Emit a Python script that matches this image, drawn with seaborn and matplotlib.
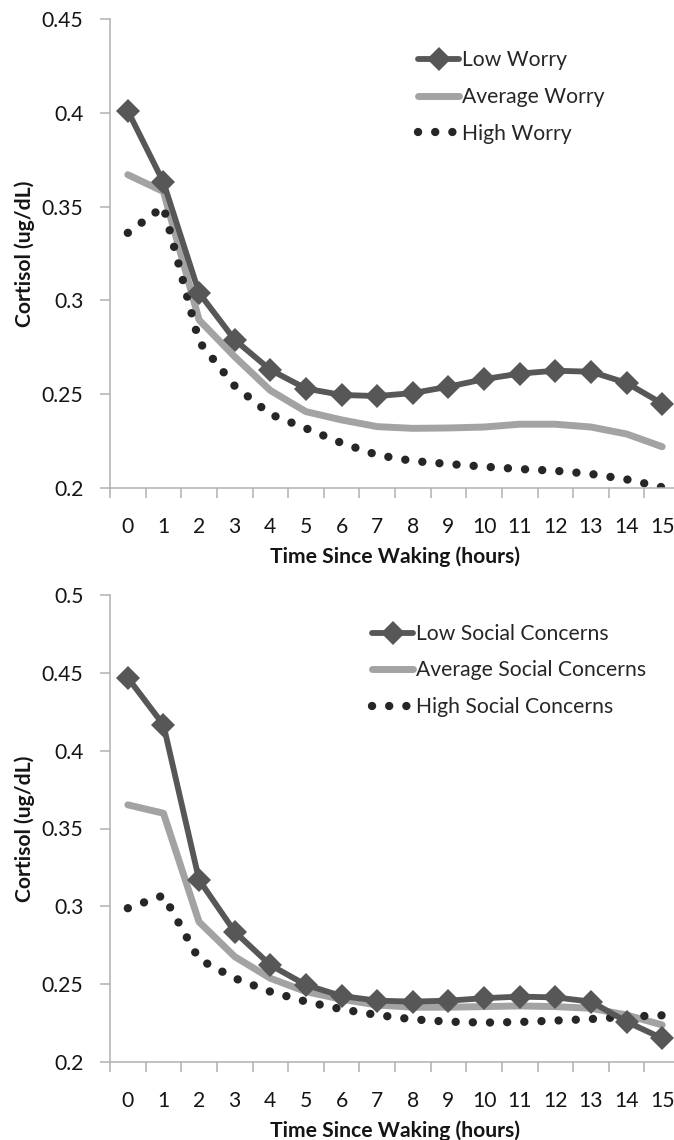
import numpy as np
import matplotlib
matplotlib.use("Agg")
import matplotlib.pyplot as plt
import seaborn as sns
import pandas as pd

# ---- data ----
hours = list(range(16))
hour_labels = [str(h) for h in hours]

low_worry = [0.401, 0.363, 0.304, 0.279, 0.263, 0.253, 0.2496, 0.249, 0.2506, 0.254,
             0.258, 0.261, 0.2625, 0.262, 0.256, 0.245]
avg_worry = [0.367, 0.358, 0.2896, 0.270, 0.252, 0.2407, 0.2363, 0.2327, 0.2318, 0.232,
             0.2325, 0.234, 0.234, 0.2325, 0.2288, 0.222]
high_worry = [0.336, 0.350, 0.278, 0.2544, 0.2393, 0.2318, 0.224, 0.2176, 0.2144, 0.2128,
              0.2114, 0.2101, 0.2092, 0.2075, 0.2046, 0.2004]

low_social = [0.4468, 0.4166, 0.317, 0.2837, 0.2623, 0.2495, 0.2424, 0.2394, 0.2388, 0.2394,
              0.241, 0.242, 0.2415, 0.2388, 0.2259, 0.2152]
avg_social = [0.3652, 0.3598, 0.290, 0.2677, 0.2538, 0.2452, 0.2403, 0.2366, 0.2352, 0.2352,
              0.2356, 0.236, 0.2356, 0.2345, 0.2302, 0.2238]
high_social = [0.2988, 0.307, 0.266, 0.2538, 0.2452, 0.2388, 0.2339, 0.2302, 0.2274, 0.2259,
               0.2253, 0.2257, 0.2266, 0.2276, 0.2291, 0.230]

top_labels = ["Low Worry", "Average Worry", "High Worry"]
bottom_labels = ["Low Social Concerns", "Average Social Concerns", "High Social Concerns"]

top_yticks = [0.2, 0.25, 0.3, 0.35, 0.4, 0.45]
bottom_yticks = [0.2, 0.25, 0.3, 0.35, 0.4, 0.45, 0.5]
ytick_labels_top = ["0.2", "0.25", "0.3", "0.35", "0.4", "0.45"]
ytick_labels_bottom = ["0.2", "0.25", "0.3", "0.35", "0.4", "0.45", "0.5"]

ylabel = "Cortisol (ug/dL)"
xlabel = "Time Since Waking (hours)"

# ---- style ----
sns.set_theme(style="white")
plt.rcParams['font.family'] = ['Lato', 'DejaVu Sans']

FS = 15.2
C_LOW = "#575757"
C_AVG = "#a3a3a3"
C_HIGH = "#262626"
C_AXIS = "#b0b0b0"
C_TEXT = "#151515"

W, H = 674, 1140
fig = plt.figure(figsize=(W / 100, H / 100), dpi=100)


def px_axes(left, top, right, bottom):
    return fig.add_axes([left / W, 1 - bottom / H, (right - left) / W, (bottom - top) / H])


def draw(ax, low, avg, high, labels, yticks, ylabels, ymax, leg_x, leg_top, lspace):
    df = pd.DataFrame({"hour": hours, "low": low, "avg": avg, "high": high})
    sns.lineplot(data=df, x="hour", y="avg", ax=ax, color=C_AVG, linewidth=5.0,
                 solid_capstyle="round", solid_joinstyle="round", label=labels[1])
    sns.lineplot(data=df, x="hour", y="high", ax=ax, color=C_HIGH, linewidth=6.0,
                 linestyle=(0, (0.01, 2.05)), dash_capstyle="round", label=labels[2])
    sns.lineplot(data=df, x="hour", y="low", ax=ax, color=C_LOW, linewidth=4.2,
                 marker="D", markersize=12, markeredgewidth=0, label=labels[0])

    ax.set_xlim(-0.5, 15.5)
    ax.set_ylim(0.2, ymax)
    ax.set_yticks(yticks)
    ax.set_yticklabels(ylabels, fontsize=FS, color=C_TEXT)
    ax.set_xticks(np.arange(-0.5, 16, 1))
    ax.set_xticklabels([])
    ax.set_xticks(hours, minor=True)
    ax.set_xticklabels(hour_labels, minor=True, fontsize=FS, color=C_TEXT)
    ax.tick_params(axis="x", which="major", length=7, width=1.1, color=C_AXIS, direction="out")
    ax.tick_params(axis="x", which="minor", length=0, pad=21)
    ax.tick_params(axis="y", length=7, width=1.1, color=C_AXIS, direction="out", pad=12)
    ax.tick_params(bottom=True, left=True, which="both")

    for s in ["top", "right"]:
        ax.spines[s].set_visible(False)
    for s in ["left", "bottom"]:
        ax.spines[s].set_color(C_AXIS)
        ax.spines[s].set_linewidth(1.1)

    ax.set_xlabel(xlabel, fontsize=FS, fontweight="bold", labelpad=7, color=C_TEXT)
    ax.set_ylabel(ylabel, fontsize=FS, fontweight="bold", labelpad=5, color=C_TEXT)
    ax.grid(False)

    h, l = ax.get_legend_handles_labels()
    order = [l.index(labels[0]), l.index(labels[1]), l.index(labels[2])]
    ax.legend([h[i] for i in order], [l[i] for i in order],
              loc="upper left", bbox_to_anchor=(leg_x / W, 1 - leg_top / H),
              bbox_transform=fig.transFigure, frameon=False, fontsize=FS,
              handlelength=1.95, handletextpad=0.15, labelspacing=lspace,
              borderpad=0, borderaxespad=0, numpoints=1)


ax1 = px_axes(110, 19, 680, 488)
draw(ax1, low_worry, avg_worry, high_worry, top_labels, top_yticks, ytick_labels_top,
     0.45, 418, 50, 0.8)

ax2 = px_axes(110, 595, 680, 1062)
draw(ax2, low_social, avg_social, high_social, bottom_labels, bottom_yticks,
     ytick_labels_bottom, 0.5, 372, 624, 0.78)

fig.savefig("out.png", dpi=100)
